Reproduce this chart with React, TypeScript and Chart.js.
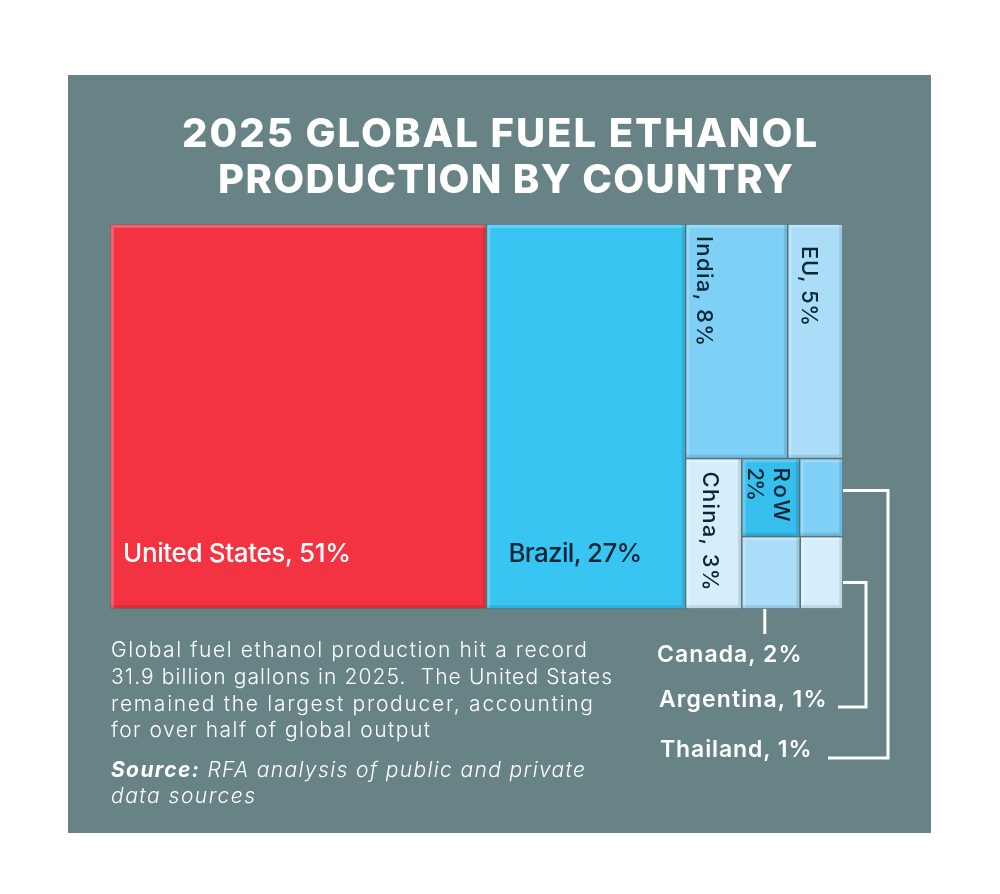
import React, { useEffect, useRef } from "react";
import { Chart, registerables } from "chart.js";

Chart.register(...registerables);

// ---------------- data ----------------
const countries = ["United States", "Brazil", "India", "EU", "China", "RoW", "Thailand", "Canada", "Argentina"];
// area shares (percent of global output)
const shares = [51.4, 27.2, 8.5, 4.6, 3.0, 1.6, 1.2, 1.5, 1.1];
// percentages printed on the labels
const labelPercents = [51, 27, 8, 5, 3, 2, 1, 2, 1];

const titleLines = ["2025 GLOBAL FUEL ETHANOL", "PRODUCTION BY COUNTRY"];
const bodyLines = [
  "Global fuel ethanol production hit a record",
  "31.9 billion gallons in 2025.  The United States",
  "remained the largest producer, accounting",
  "for over half of global output",
];
const sourceBold = "Source:";
const sourceLines = [" RFA analysis of public and private", "data sources"];

// treemap grouping (indices into countries)
type TNode = number | { dir: "h" | "v"; children: TNode[] };
const layoutTree: TNode = {
  dir: "h",
  children: [
    0,
    1,
    {
      dir: "v",
      children: [
        { dir: "h", children: [2, 3] },
        {
          dir: "h",
          children: [
            4,
            { dir: "v", children: [{ dir: "h", children: [5, 6] }, { dir: "h", children: [7, 8] }] },
          ],
        },
      ],
    },
  ],
};

// ---------------- styles ----------------
const PANEL = "#678385";
const DARK = "#0c2636";
const FONT = "Inter, 'Open Sans', sans-serif";
const cellColors = ["#f33342", "#39c5f2", "#7ed0f6", "#aadef8", "#d5eefb", "#36beed", "#7ed0f6", "#aadef8", "#d5eefb"];

type LabelStyle = {
  rot: boolean;
  dx: number;
  dy: number;
  size: number;
  color: string;
  target: number;
  twoLine?: { gap: number; target2: number };
} | null;

const labelStyles: LabelStyle[] = [
  { rot: false, dx: 13, dy: -47, size: 26, color: "#ffffff", target: 228 },
  { rot: false, dx: 22, dy: -47, size: 26, color: DARK, target: 134 },
  { rot: true, dx: 11, dy: 12, size: 22, color: DARK, target: 110 },
  { rot: true, dx: 14, dy: 22, size: 22, color: DARK, target: 80 },
  { rot: true, dx: 17, dy: 13, size: 22, color: DARK, target: 119 },
  { rot: true, dx: 32, dy: 9, size: 22, color: DARK, target: 54, twoLine: { gap: 26, target2: 29 } },
  null,
  null,
  null,
];

// ---------------- helpers ----------------
type Rect = { x0: number; y0: number; x1: number; y1: number };

function nodeSum(n: TNode): number {
  return typeof n === "number" ? shares[n] : n.children.reduce((a, c) => a + nodeSum(c), 0);
}

function layoutNode(n: TNode, r: Rect, out: Rect[]) {
  if (typeof n === "number") {
    out[n] = r;
    return;
  }
  const total = nodeSum(n);
  let pos = n.dir === "h" ? r.x0 : r.y0;
  for (const c of n.children) {
    const f = nodeSum(c) / total;
    if (n.dir === "h") {
      const nx = pos + f * (r.x1 - r.x0);
      layoutNode(c, { x0: pos, y0: r.y0, x1: nx, y1: r.y1 }, out);
      pos = nx;
    } else {
      const ny = pos + f * (r.y1 - r.y0);
      layoutNode(c, { x0: r.x0, y0: pos, x1: r.x1, y1: ny }, out);
      pos = ny;
    }
  }
}

const cells: Rect[] = [];
layoutNode(layoutTree, { x0: 0, y0: 0, x1: 100, y1: 100 }, cells);

let mctx: CanvasRenderingContext2D | null = null;
function measure(text: string, font: string) {
  if (!mctx) mctx = document.createElement("canvas").getContext("2d");
  mctx!.font = font;
  const m = mctx!.measureText(text);
  return { w: m.width, a: m.fontBoundingBoxAscent || 0, d: m.fontBoundingBoxDescent || 0 };
}

function fitSpacing(width: number, text: string, target: number) {
  const n = Math.max(1, text.length - 1);
  return Math.max(-2, Math.min(4, (target - width) / n));
}

type TextSpec = {
  parts: { text: string; weight: number; italic?: boolean }[];
  left: number;
  baseline: number;
  size: number;
  target: number;
  color?: string;
};

function PlacedText({ spec }: { spec: TextSpec }) {
  let w = 0;
  let a = 0;
  let d = 0;
  let all = "";
  for (const p of spec.parts) {
    const f = `${p.italic ? "italic " : ""}${p.weight} ${spec.size}px ${FONT}`;
    const m = measure(p.text, f);
    w += m.w;
    a = Math.max(a, m.a);
    d = Math.max(d, m.d);
    all += p.text;
  }
  if (!a) {
    a = spec.size * 0.97;
    d = spec.size * 0.24;
  }
  const ls = fitSpacing(w, all, spec.target);
  const lh = spec.size;
  const top = spec.baseline - ((lh - (a + d)) / 2 + a);
  return (
    <div
      style={{
        position: "absolute",
        left: spec.left,
        top,
        fontFamily: FONT,
        fontSize: spec.size,
        lineHeight: `${lh}px`,
        letterSpacing: `${ls}px`,
        whiteSpace: "pre",
        color: spec.color || "#ffffff",
      }}
    >
      {spec.parts.map((p, i) => (
        <span key={i} style={{ fontWeight: p.weight, fontStyle: p.italic ? "italic" : "normal" }}>
          {p.text}
        </span>
      ))}
    </div>
  );
}

// ---------------- chart plugin ----------------
const treemapPlugin = {
  id: "treemapCells",
  afterDatasetsDraw(chart: any) {
    const ctx: CanvasRenderingContext2D = chart.ctx;
    const xs = chart.scales.x;
    const ys = chart.scales.y;
    const px = cells.map((c) => ({
      x0: xs.getPixelForValue(c.x0),
      x1: xs.getPixelForValue(c.x1),
      y0: ys.getPixelForValue(c.y0),
      y1: ys.getPixelForValue(c.y1),
    }));
    ctx.save();
    const area = chart.chartArea;
    ctx.fillStyle = "#55727b";
    ctx.fillRect(area.left, area.top, area.right - area.left, area.bottom - area.top);
    px.forEach((r, i) => {
      const g = 0.8;
      const x = r.x0 + g;
      const y = r.y0 + g;
      const w = r.x1 - r.x0 - 2 * g;
      const h = r.y1 - r.y0 - 2 * g;
      ctx.fillStyle = cellColors[i];
      ctx.fillRect(x, y, w, h);
      const b = 3;
      ctx.fillStyle = "rgba(255,255,255,0.22)";
      ctx.fillRect(x, y, w, b);
      ctx.fillRect(x, y + b, b, h - b);
      ctx.fillStyle = "rgba(0,0,0,0.10)";
      ctx.fillRect(x, y + h - b, w, b);
      ctx.fillRect(x + w - b, y, b, h - b);
    });

    // labels
    px.forEach((r, i) => {
      const st = labelStyles[i];
      if (!st) return;
      const font = `500 ${st.size}px ${FONT}`;
      ctx.font = font;
      ctx.fillStyle = st.color;
      ctx.textBaseline = "alphabetic";
      ctx.textAlign = "left";
      const drawFit = (text: string, target: number, x: number, y: number) => {
        (ctx as any).letterSpacing = "0px";
        const w = ctx.measureText(text).width;
        (ctx as any).letterSpacing = `${fitSpacing(w, text, target)}px`;
        ctx.fillText(text, x, y);
        (ctx as any).letterSpacing = "0px";
      };
      if (!st.rot) {
        drawFit(`${countries[i]}, ${labelPercents[i]}%`, st.target, r.x0 + st.dx, r.y1 + st.dy);
      } else {
        ctx.save();
        ctx.translate(r.x0 + st.dx, r.y0 + st.dy);
        ctx.rotate(Math.PI / 2);
        if (st.twoLine) {
          drawFit(countries[i], st.target, 0, 0);
          drawFit(`${labelPercents[i]}%`, st.twoLine.target2, 0, st.twoLine.gap);
        } else {
          drawFit(`${countries[i]}, ${labelPercents[i]}%`, st.target, 0, 0);
        }
        ctx.restore();
      }
    });

    // callout leader lines
    ctx.strokeStyle = "#ffffff";
    ctx.lineWidth = 3;
    ctx.lineCap = "butt";
    ctx.lineJoin = "miter";
    const can = px[7];
    const cx = can.x0 + 23;
    ctx.beginPath();
    ctx.moveTo(cx, can.y1);
    ctx.lineTo(cx, can.y1 + 25);
    ctx.stroke();
    const arg = px[8];
    ctx.beginPath();
    ctx.moveTo(arg.x1, arg.y0 + 46);
    ctx.lineTo(866, arg.y0 + 46);
    ctx.lineTo(866, 707);
    ctx.lineTo(838, 707);
    ctx.stroke();
    const tha = px[6];
    ctx.beginPath();
    ctx.moveTo(tha.x1, tha.y0 + 32);
    ctx.lineTo(888, tha.y0 + 32);
    ctx.lineTo(888, 758);
    ctx.lineTo(828, 758);
    ctx.stroke();
    ctx.restore();
  },
};

export default function App() {
  const ref = useRef<HTMLCanvasElement>(null);

  useEffect(() => {
    const chart = new Chart(ref.current!, {
      type: "scatter",
      data: {
        datasets: [
          {
            label: "Share of global fuel ethanol production",
            data: cells.map((c, i) => ({ x: (c.x0 + c.x1) / 2, y: (c.y0 + c.y1) / 2, v: shares[i] })) as any,
            pointRadius: 0,
            pointHoverRadius: 0,
          },
        ],
      },
      options: {
        animation: false,
        responsive: false,
        devicePixelRatio: 1,
        layout: { padding: { left: 110, right: 157, top: 224, bottom: 285 } },
        scales: {
          x: { type: "linear", min: 0, max: 100, display: false },
          y: { type: "linear", min: 0, max: 100, reverse: true, display: false },
        },
        plugins: { legend: { display: false }, tooltip: { enabled: false }, title: { display: false } },
        events: [],
      },
      plugins: [treemapPlugin],
    });
    return () => chart.destroy();
  }, []);

  const texts: TextSpec[] = [
    { parts: [{ text: titleLines[0], weight: 800 }], left: 182, baseline: 147, size: 40, target: 635 },
    { parts: [{ text: titleLines[1], weight: 800 }], left: 218, baseline: 193, size: 40, target: 575 },
    { parts: [{ text: bodyLines[0], weight: 300 }], left: 111, baseline: 657, size: 21, target: 476 },
    { parts: [{ text: bodyLines[1], weight: 300 }], left: 111, baseline: 684, size: 21, target: 501 },
    { parts: [{ text: bodyLines[2], weight: 300 }], left: 111, baseline: 710.5, size: 21, target: 482 },
    { parts: [{ text: bodyLines[3], weight: 300 }], left: 111, baseline: 737, size: 21, target: 319 },
    {
      parts: [
        { text: sourceBold, weight: 700, italic: true },
        { text: sourceLines[0], weight: 300, italic: true },
      ],
      left: 111,
      baseline: 777,
      size: 21,
      target: 474,
    },
    { parts: [{ text: sourceLines[1], weight: 300, italic: true }], left: 111, baseline: 803, size: 21, target: 144 },
    { parts: [{ text: `${countries[7]}, ${labelPercents[7]}%`, weight: 600 }], left: 657, baseline: 662, size: 23, target: 145 },
    { parts: [{ text: `${countries[8]}, ${labelPercents[8]}%`, weight: 600 }], left: 659, baseline: 707, size: 23, target: 168 },
    { parts: [{ text: `${countries[6]}, ${labelPercents[6]}%`, weight: 600 }], left: 660, baseline: 757, size: 23, target: 152 },
  ];

  return (
    <div style={{ position: "absolute", left: 0, top: 0, width: 1000, height: 894, background: "#ffffff", overflow: "hidden" }}>
      <div style={{ position: "absolute", left: 68, top: 75, width: 863, height: 758, background: PANEL }} />
      <canvas
        ref={ref}
        width={1000}
        height={894}
        style={{ position: "absolute", left: 0, top: 0, width: 1000, height: 894 }}
      />
      {texts.map((t, i) => (
        <PlacedText key={i} spec={t} />
      ))}
    </div>
  );
}
